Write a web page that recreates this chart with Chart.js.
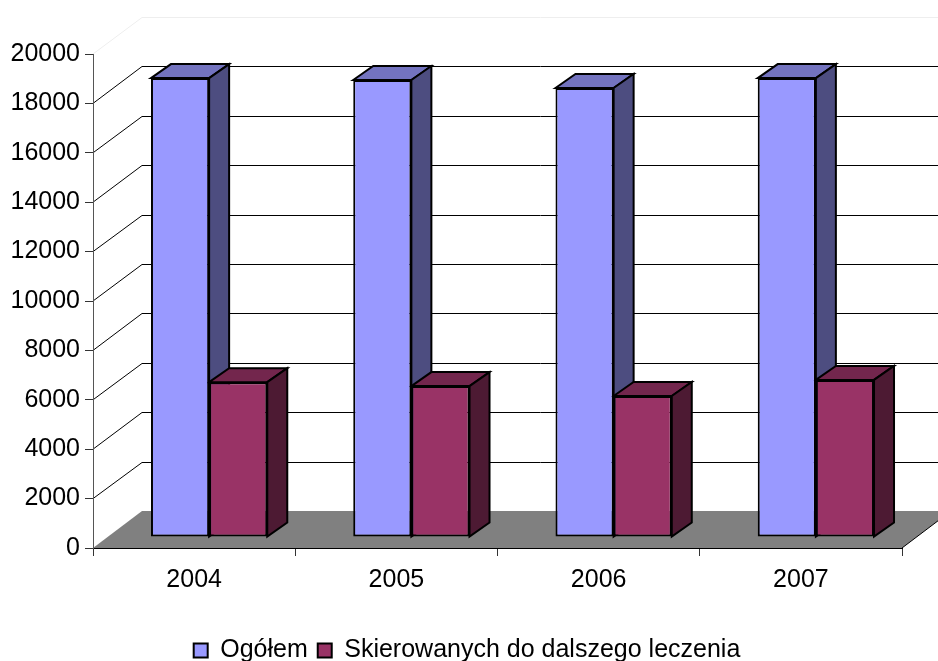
<!DOCTYPE html>
<html>
<head>
<meta charset="utf-8">
<style>
  html, body { margin: 0; padding: 0; background: #fff; }
  #wrap { width: 938px; height: 661px; }
</style>
</head>
<body>
<div id="wrap"><canvas id="barChart"></canvas></div>
<script src="https://cdn.jsdelivr.net/npm/chart.js@4"></script>
<script>
const categories = ['2004', '2005', '2006', '2007'];
const ogolem = [18580, 18500, 18180, 18580];
const skierowanych = [6270, 6110, 5710, 6360];

const seriesNames = ['Ogółem', 'Skierowanych do dalszego leczenia'];
const frontColors = ['#9999FF', '#993366'];
const topColors = ['#7373BF', '#73264D'];
const sideColors = ['#4D4D80', '#4D1A33'];

// depth of the box and of the bars inside it
const wallDx = 49, wallDy = 37;
const barDx = 20, barDy = 14;
const shiftX = 15, shiftY = -11;

function poly(c, pts, fill, stroke, lw) {
  c.beginPath();
  pts.forEach((p, i) => i ? c.lineTo(p[0], p[1]) : c.moveTo(p[0], p[1]));
  c.closePath();
  if (fill) { c.fillStyle = fill; c.fill(); }
  if (stroke) { c.strokeStyle = stroke; c.lineWidth = lw; c.stroke(); }
}

// floor, faint top edge and the gridlines on the back wall
const walls = {
  id: 'walls',
  afterLayout(chart) {
    // legend sits centred on the whole page, not on the padded area
    chart.legend.left += 16;
    chart.legend.right += 16;
  },
  beforeDraw(chart) {
    const c = chart.ctx, y = chart.scales.y, a = chart.chartArea;
    const y0 = y.getPixelForValue(0);
    c.save();
    poly(c, [[a.left, y0], [a.right, y0], [a.right + wallDx, y0 - wallDy], [a.left + wallDx, y0 - wallDy]], '#808080');
    y.ticks.forEach(t => {
      if (t.value === 0) return;
      const py = y.getPixelForValue(t.value);
      const back = Math.round(py - wallDy) + 0.5;
      c.strokeStyle = t.value === 20000 ? '#EEEEEE' : '#000000';
      c.lineWidth = 1;
      c.beginPath();
      c.moveTo(a.left, py);
      c.lineTo(a.left + wallDx, back);
      c.lineTo(a.right + wallDx, back);
      c.stroke();
    });
    c.strokeStyle = '#000000';
    c.lineWidth = 1;
    c.beginPath();
    c.moveTo(a.right, y0);
    c.lineTo(a.right + wallDx, y0 - wallDy);
    c.stroke();
    c.restore();
  }
};

// top and side faces, fronts are the normal chart.js bars moved by the same shift
const bars3d = {
  id: 'bars3d',
  beforeDatasetsDraw(chart) {
    const c = chart.ctx;
    c.save();
    c.translate(shiftX, shiftY);
    c.lineJoin = 'miter';
    [0, 1].forEach(i => {
      chart.getDatasetMeta(i).data.forEach(b => {
        const l = b.x - b.width / 2, r = b.x + b.width / 2;
        poly(c, [[l, b.y], [l + barDx, b.y - barDy], [r + barDx, b.y - barDy], [r, b.y]], topColors[i], '#000', 2);
        poly(c, [[r, b.y], [r + barDx, b.y - barDy], [r + barDx, b.base - barDy], [r, b.base]], sideColors[i], '#000', 2);
      });
    });
  },
  afterDatasetsDraw(chart) {
    chart.ctx.restore();
  }
};

const ctx = document.getElementById('barChart');

new Chart(ctx, {
  type: 'bar',
  data: {
    labels: categories,
    datasets: [
      { label: seriesNames[0], data: ogolem, backgroundColor: frontColors[0], borderColor: '#000', borderWidth: 2, borderSkipped: false, clip: false },
      { label: seriesNames[1], data: skierowanych, backgroundColor: frontColors[1], borderColor: '#000', borderWidth: 2, borderSkipped: false, clip: false }
    ]
  },
  options: {
    responsive: true,
    maintainAspectRatio: false,
    animation: false,
    categoryPercentage: 0.575,
    barPercentage: 1,
    layout: { padding: { top: 54, right: 36, bottom: -12 } },
    font: { family: '"Liberation Sans"' },
    plugins: {
      tooltip: { enabled: false },
      legend: {
        position: 'bottom',
        onClick: null,
        labels: {
          color: '#000',
          padding: 10,
          boxWidth: 14,
          boxHeight: 14,
          font: { family: '"Liberation Sans"', size: 25 }
        }
      }
    },
    scales: {
      x: {
        grid: { drawOnChartArea: false, tickLength: 8, tickColor: '#333', offset: true },
        border: { color: '#000', width: 1 },
        ticks: { color: '#000', padding: 9, maxRotation: 0, font: { family: '"Liberation Sans"', size: 25 } },
        afterFit(s) { s.height = 80; }
      },
      y: {
        min: 0,
        max: 20000,
        grid: { drawOnChartArea: false, tickLength: 8, tickColor: '#333' },
        border: { color: '#555', width: 1 },
        ticks: { stepSize: 2000, color: '#000', padding: 5, font: { family: '"Liberation Sans"', size: 25 }, callback: v => String(v) },
        afterFit(s) { s.width = 93; }
      }
    }
  },
  plugins: [walls, bars3d]
});
</script>
</body>
</html>
